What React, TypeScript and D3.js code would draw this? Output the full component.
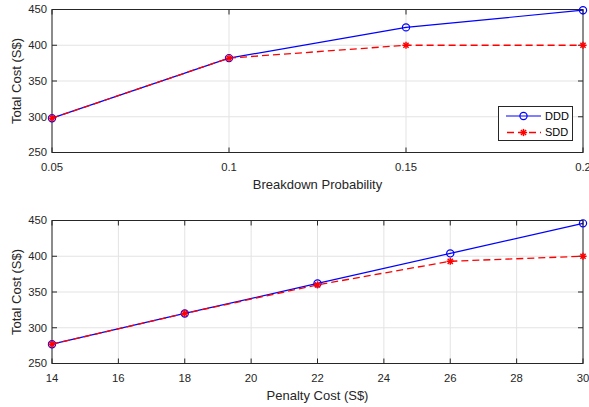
import React from "react";
import * as d3 from "d3";

const probX = [0.05, 0.1, 0.15, 0.2];
const probDDD = [298, 382, 425, 449];
const probSDD = [298, 382, 400, 400];
const probTicks = [0.05, 0.1, 0.15, 0.2];
const probTickLabels = ["0.05", "0.1", "0.15", "0.2"];

const penX = [14, 18, 22, 26, 30];
const penDDD = [277, 320, 362, 404, 446];
const penSDD = [277, 320, 360, 393, 400];
const penTicks = [14, 16, 18, 20, 22, 24, 26, 28, 30];

const yTicks = [250, 300, 350, 400, 450];

const seriesNames = ["DDD", "SDD"];

const FONT = "'Liberation Sans', Arial, Helvetica, sans-serif";
const AX = "#262626";
const GRID = "#e3e3e3";

function Star({ x, y, r, color }: { x: number; y: number; r: number; color: string }) {
  const d = r * 0.72;
  return (
    <g stroke={color} strokeWidth={1.5}>
      <line x1={x - r} y1={y} x2={x + r} y2={y} />
      <line x1={x} y1={y - r} x2={x} y2={y + r} />
      <line x1={x - d} y1={y - d} x2={x + d} y2={y + d} />
      <line x1={x - d} y1={y + d} x2={x + d} y2={y - d} />
    </g>
  );
}

function Panel({
  xs, dd, sd, ticks, tickLabels, xDomain, top, bottom, xlabel, legend,
}: {
  xs: number[]; dd: number[]; sd: number[]; ticks: number[]; tickLabels: string[];
  xDomain: [number, number]; top: number; bottom: number; xlabel: string; legend: boolean;
}) {
  const left = 52;
  const right = 583;
  const x = d3.scaleLinear().domain(xDomain).range([left, right]);
  const y = d3.scaleLinear().domain([250, 450]).range([bottom, top]);
  const line = d3.line<[number, number]>().x((d) => x(d[0])).y((d) => y(d[1]));
  const ddPts = xs.map((v, i) => [v, dd[i]] as [number, number]);
  const sdPts = xs.map((v, i) => [v, sd[i]] as [number, number]);
  const tl = 5;
  return (
    <g>
      {ticks.map((t, i) => (
        <line key={"gx" + i} x1={x(t)} x2={x(t)} y1={top} y2={bottom} stroke={GRID} strokeWidth={1} />
      ))}
      {yTicks.map((t, i) => (
        <line key={"gy" + i} x1={left} x2={right} y1={y(t)} y2={y(t)} stroke={GRID} strokeWidth={1} />
      ))}
      <rect x={left} y={top} width={right - left} height={bottom - top} fill="none" stroke={AX} strokeWidth={1} />
      {ticks.map((t, i) => (
        <g key={"tx" + i} stroke={AX} strokeWidth={1}>
          <line x1={x(t)} x2={x(t)} y1={bottom} y2={bottom - tl} />
          <line x1={x(t)} x2={x(t)} y1={top} y2={top + tl} />
        </g>
      ))}
      {yTicks.map((t, i) => (
        <g key={"ty" + i} stroke={AX} strokeWidth={1}>
          <line x1={left} x2={left + tl} y1={y(t)} y2={y(t)} />
          <line x1={right} x2={right - tl} y1={y(t)} y2={y(t)} />
        </g>
      ))}
      {ticks.map((t, i) => (
        <text key={"lx" + i} x={x(t)} y={bottom + 18} textAnchor="middle" fontSize={11.3} fill={AX} fontFamily={FONT}>
          {tickLabels[i]}
        </text>
      ))}
      {yTicks.map((t, i) => (
        <text key={"ly" + i} x={47} y={y(t)} dy="0.35em" textAnchor="end" fontSize={11.3} fill={AX} fontFamily={FONT}>
          {t}
        </text>
      ))}
      <text x={(left + right) / 2} y={bottom + 36} textAnchor="middle" fontSize={13} fill={AX} fontFamily={FONT}>
        {xlabel}
      </text>
      <text
        transform={`translate(21,${(top + bottom) / 2}) rotate(-90)`}
        textAnchor="middle" fontSize={13} fill={AX} fontFamily={FONT}
      >
        Total Cost (S$)
      </text>
      <path d={line(ddPts) || ""} fill="none" stroke="#0000ff" strokeWidth={1.2} />
      {ddPts.map((p, i) => (
        <circle key={"c" + i} cx={x(p[0])} cy={y(p[1])} r={3.6} fill="none" stroke="#0000ff" strokeWidth={1.2} />
      ))}
      <path d={line(sdPts) || ""} fill="none" stroke="#ff0000" strokeWidth={1.3} strokeDasharray="7,4" />
      {sdPts.map((p, i) => (
        <Star key={"s" + i} x={x(p[0])} y={y(p[1])} r={3.6} color="#ff0000" />
      ))}
      {legend && (
        <g>
          <rect x={498.5} y={106.5} width={74} height={34} fill="#ffffff" stroke={AX} strokeWidth={1} />
          <line x1={506} x2={541} y1={116} y2={116} stroke="#0000ff" strokeWidth={1.2} />
          <circle cx={523.5} cy={116} r={3.6} fill="none" stroke="#0000ff" strokeWidth={1.2} />
          <text x={545} y={116} dy="0.35em" fontSize={11} fill="#000" fontFamily={FONT}>{seriesNames[0]}</text>
          <line x1={506} x2={541} y1={132.5} y2={132.5} stroke="#ff0000" strokeWidth={1.3} strokeDasharray="7,4" strokeDashoffset={-1} />
          <Star x={523.5} y={132.5} r={3.6} color="#ff0000" />
          <text x={545} y={132.5} dy="0.35em" fontSize={11} fill="#000" fontFamily={FONT}>{seriesNames[1]}</text>
        </g>
      )}
    </g>
  );
}

export default function App() {
  return (
    <svg
      width={589}
      height={407}
      style={{ position: "absolute", left: 0, top: 0, background: "#fff" }}
    >
      <rect x={0} y={0} width={589} height={407} fill="#fff" />
      <Panel
        xs={probX} dd={probDDD} sd={probSDD} ticks={probTicks} tickLabels={probTickLabels}
        xDomain={[0.05, 0.2]} top={9.5} bottom={152.5} xlabel="Breakdown Probability" legend={true}
      />
      <Panel
        xs={penX} dd={penDDD} sd={penSDD} ticks={penTicks} tickLabels={penTicks.map(String)}
        xDomain={[14, 30]} top={220.5} bottom={363.5} xlabel="Penalty Cost (S$)" legend={false}
      />
    </svg>
  );
}
